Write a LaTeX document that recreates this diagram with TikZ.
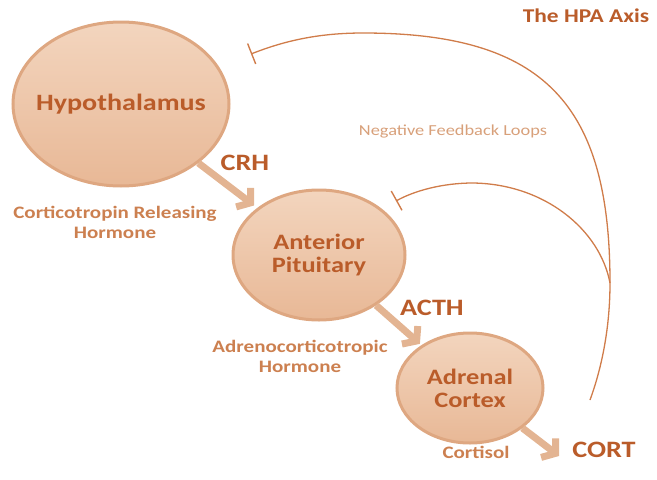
\documentclass[tikz,border=0pt]{standalone}
\usepackage{fontspec}
\setmainfont{Carlito}[FakeStretch=1.2]
\usetikzlibrary{shapes.geometric,arrows.meta}
\definecolor{glandtop}{RGB}{243,213,190}
\definecolor{glandbot}{RGB}{232,184,150}
\definecolor{glandrim}{RGB}{222,167,129}
\definecolor{hormtext}{RGB}{186,92,42}
\definecolor{labtext}{RGB}{204,128,80}
\definecolor{fbline}{RGB}{208,124,74}
\definecolor{fbtext}{RGB}{216,160,122}
\definecolor{flow}{RGB}{227,180,146}
\begin{document}
\begin{tikzpicture}[x=1pt, y=-1pt,
  every node/.style={align=center, inner sep=0pt},
  gland/.style={ellipse, draw=glandrim, line width=3pt, inner sep=-12pt,
    top color=glandtop, bottom color=glandbot, text=hormtext,
    font=\bfseries\fontsize{22}{23}\selectfont},
  hormone/.style={text=hormtext, font=\bfseries\fontsize{23.5}{24}\selectfont},
  longname/.style={text=labtext, font=\bfseries\fontsize{17.5}{20}\selectfont},
  flowarrow/.style={draw=flow, line width=7pt,
    -{Straight Barb[length=9pt, width=24pt]}},
  feedback/.style={draw=fbline, line width=1.3pt,
    -{Bar[width=22pt, line width=1.4pt]}}]
\useasboundingbox (0,0) rectangle (657,480);
%
% ---- Glands ----
\node[gland, minimum width=216pt, minimum height=164pt,
  font=\bfseries\fontsize{23.4}{24}\selectfont] (hyp) at (121,104)
  {Hypothalamus};
\node[gland, minimum width=172pt, minimum height=130pt] (pit) at (319,255)
  {Anterior\\Pituitary};
\node[gland, minimum width=146pt, minimum height=110pt] (adr) at (470,388)
  {Adrenal\\Cortex};
%
% ---- Hormones ----
\node[hormone] (crh) at (245,163) {CRH};
\node[hormone, anchor=west] (acth) at (400,308) {ACTH};
\node[hormone] (cort) at (604,450) {CORT};
\node[longname] (crhname) at (115,222) {Corticotropin Releasing\\Hormone};
\node[longname] (acthname) at (300,356) {Adrenocorticotropic\\Hormone};
\node[longname] (cortname) at (476,452) {Cortisol};
%
% ---- Titles ----
\node[text=hormtext, font=\bfseries\fontsize{19.5}{20}\selectfont]
  (title) at (586,16) {The HPA Axis};
\node[text=fbtext, font=\fontsize{15.3}{16}\selectfont]
  (fbname) at (453,131) {Negative Feedback Loops};
%
% ---- Cascade ----
\coordinate (cortend) at (559,456);
\draw[flowarrow, shorten >=4pt] (hyp) -- (pit);
\draw[flowarrow, shorten >=2pt] (pit) -- (adr);
\draw[flowarrow] (adr) -- (cortend);
%
% ---- Feedback ----
\coordinate (fbfoot) at (590,400);
\coordinate (fbjoin) at (610,283);
\coordinate (hypstop) at (251,54);
\coordinate (pitstop) at (396,201);
\draw[feedback] (fbfoot) .. controls (601,370) and (610,330) .. (fbjoin)
  .. controls (610,105) and (545,33) .. (363,33)
  .. controls (318,33) and (284,41) .. (hypstop);
\draw[feedback] (fbjoin) .. controls (600,230) and (545,184) .. (473,183)
  .. controls (442,183) and (414,191) .. (pitstop);
\end{tikzpicture}
\end{document}
